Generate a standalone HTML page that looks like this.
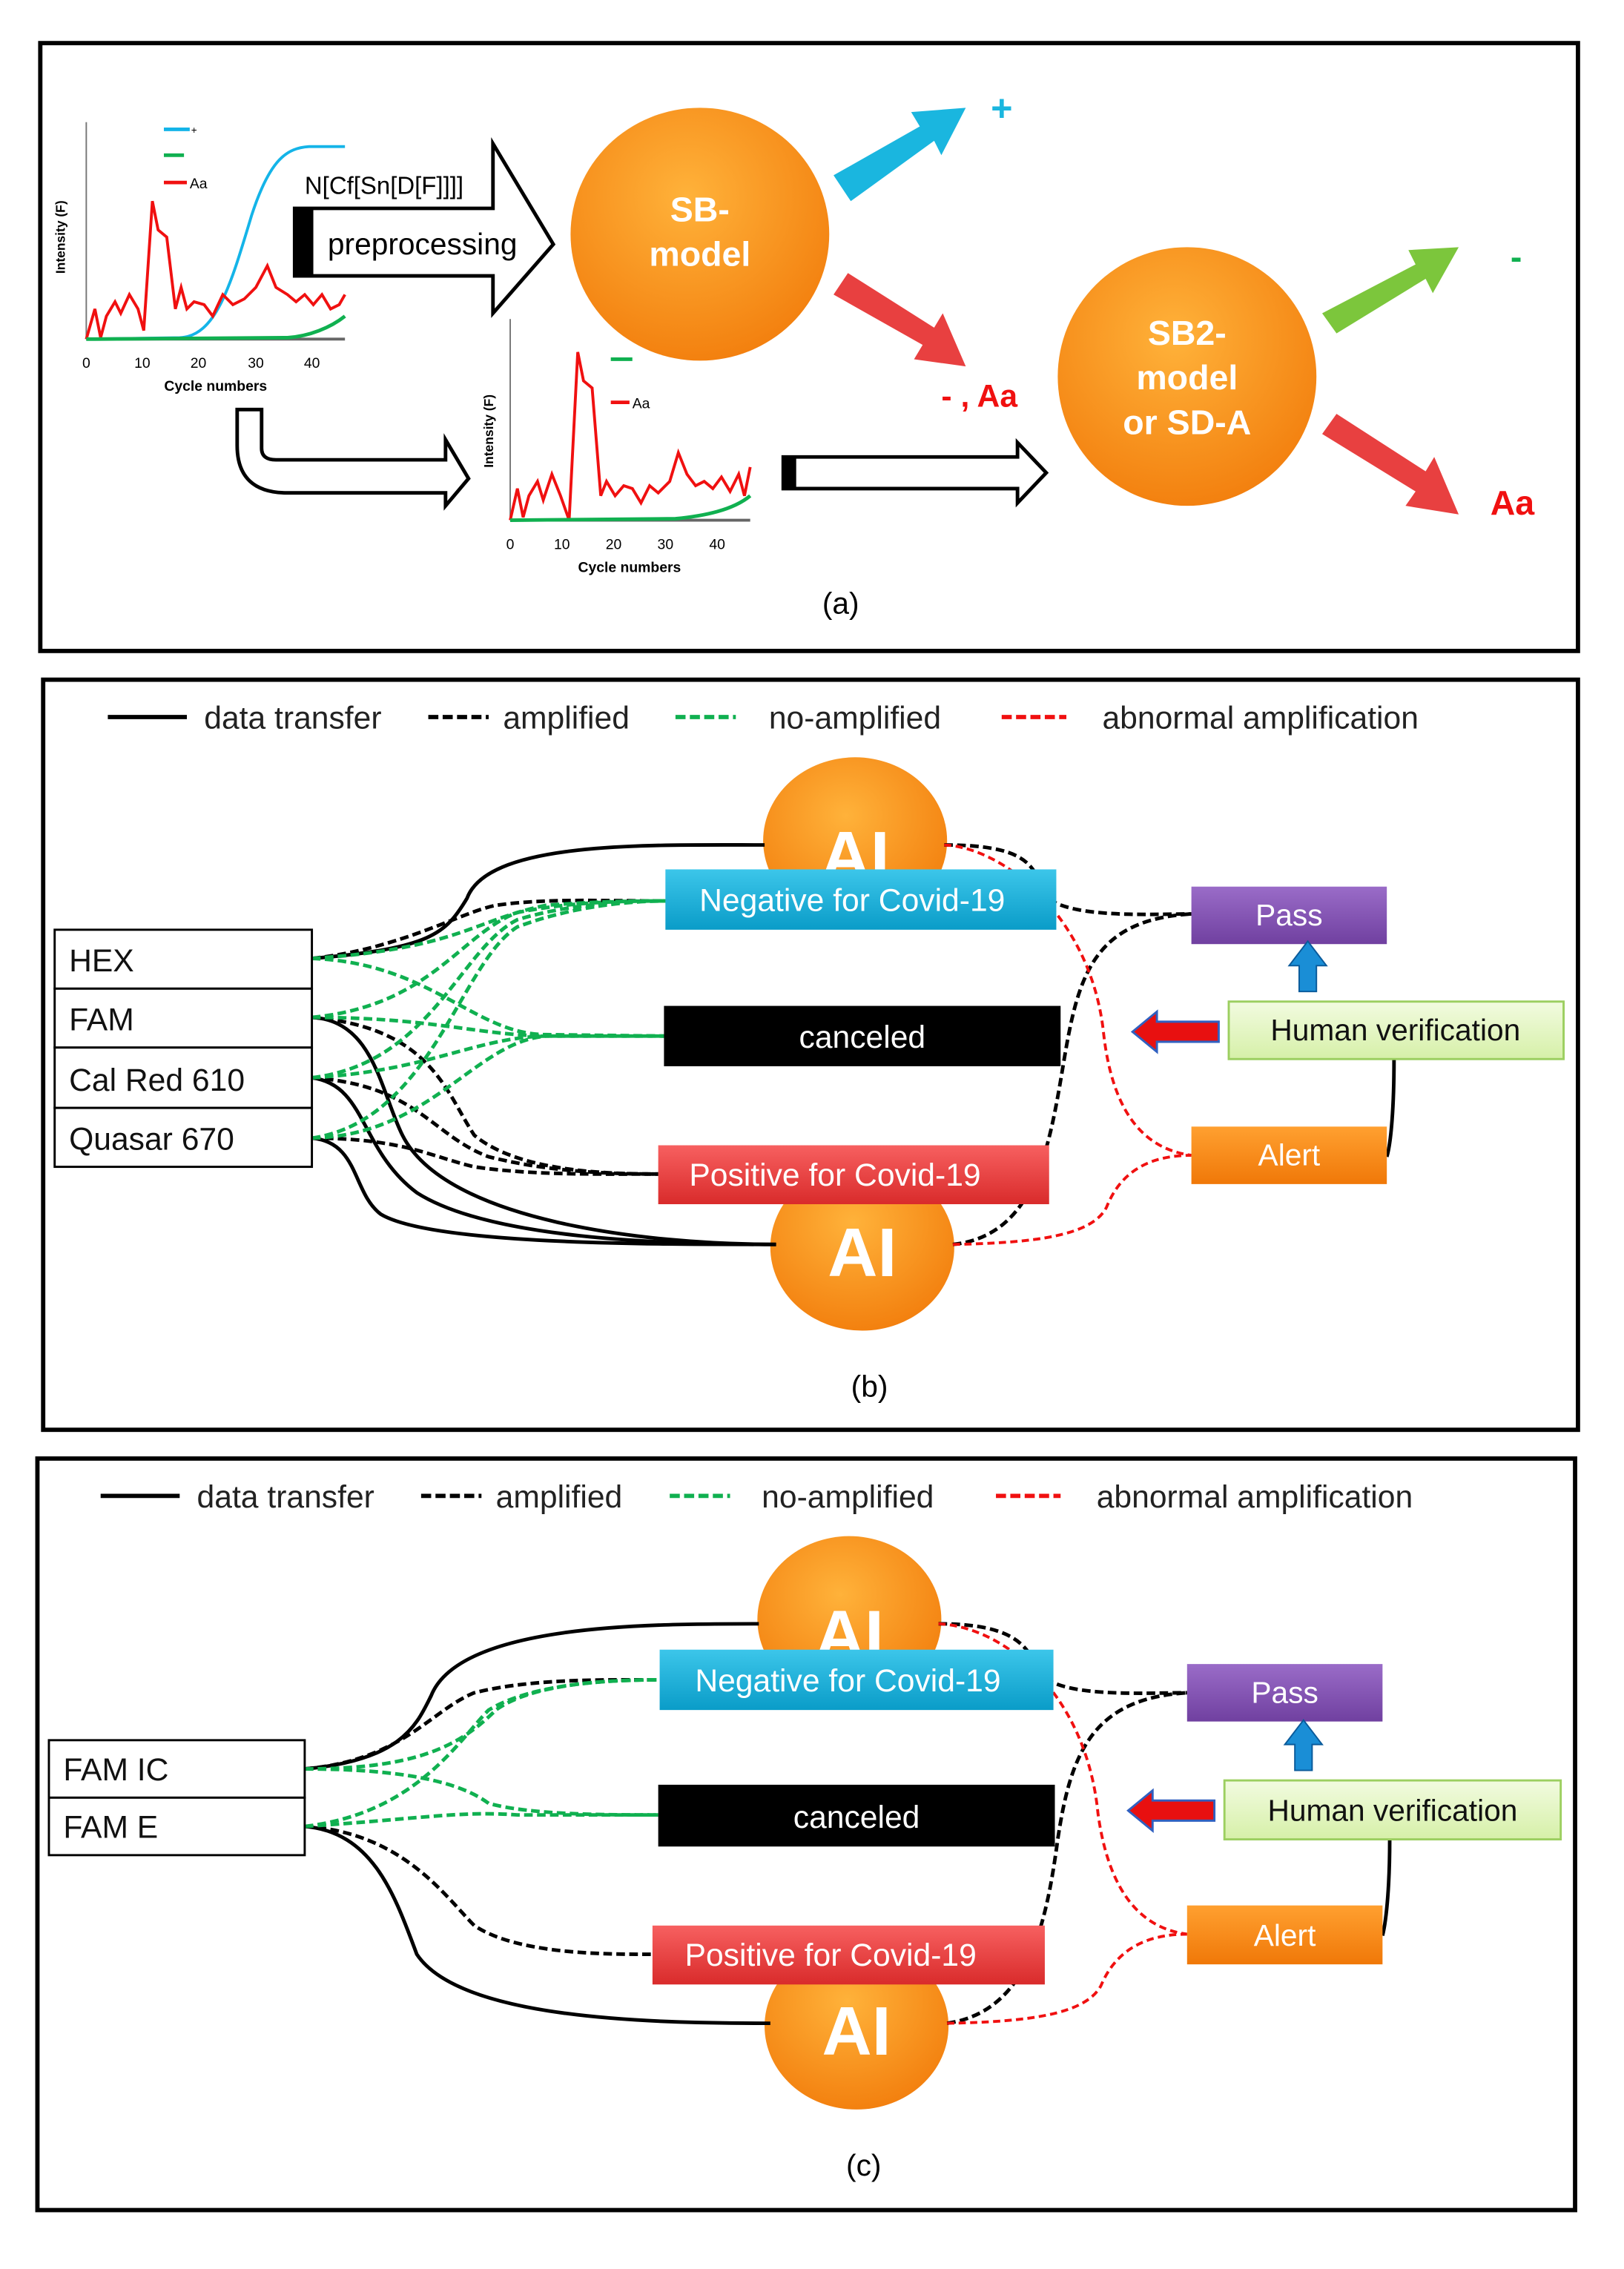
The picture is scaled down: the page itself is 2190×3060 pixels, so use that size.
<!DOCTYPE html>
<html><head><meta charset="utf-8"><style>html,body{margin:0;padding:0;background:#fff}svg{display:block}</style></head>
<body>
<svg xmlns="http://www.w3.org/2000/svg" width="2190" height="3060" viewBox="0 0 1130 1579" font-family="Liberation Sans, sans-serif">
<defs>
<radialGradient id="og" cx="0.45" cy="0.35" r="0.7"><stop offset="0" stop-color="#ffb23a"/><stop offset="1" stop-color="#f27d0c"/></radialGradient>
<linearGradient id="cy" x1="0" y1="0" x2="0" y2="1"><stop offset="0" stop-color="#3cc6ea"/><stop offset="1" stop-color="#0a9cc8"/></linearGradient>
<linearGradient id="rd" x1="0" y1="0" x2="0" y2="1"><stop offset="0" stop-color="#f76060"/><stop offset="1" stop-color="#d92b2b"/></linearGradient>
<linearGradient id="pu" x1="0" y1="0" x2="0" y2="1"><stop offset="0" stop-color="#9a6cc8"/><stop offset="1" stop-color="#7040a0"/></linearGradient>
<linearGradient id="or" x1="0" y1="0" x2="0" y2="1"><stop offset="0" stop-color="#ffa030"/><stop offset="1" stop-color="#f07808"/></linearGradient>
<linearGradient id="gr" x1="0" y1="0" x2="0" y2="1"><stop offset="0" stop-color="#f2fbe0"/><stop offset="1" stop-color="#d6f0a8"/></linearGradient>
</defs>
<rect width="1130" height="1579" fill="#fff"/>

<!-- PANEL A -->
<rect x="28" y="30" width="1070" height="423" fill="none" stroke="#000" stroke-width="3"/>
<!-- chart1 -->
<g>
<line x1="60" y1="85" x2="60" y2="236" stroke="#777" stroke-width="1"/>
<line x1="60" y1="236" x2="240" y2="236" stroke="#666" stroke-width="2"/>
<path d="M60,236 L125,235 C150,234 160,200 175,150 C188,110 200,103 215,102 L240,102" fill="none" stroke="#14b4e8" stroke-width="2"/>
<path d="M60,236 L66,215 L70,235 L74,220 L80,210 L84,218 L90,205 L96,215 L100,230 L106,140 L110,160 L116,165 L122,215 L126,200 L130,215 L135,210 L142,212 L148,220 L155,205 L162,212 L170,208 L178,200 L186,185 L192,200 L200,205 L206,210 L212,205 L218,212 L224,205 L230,215 L236,212 L240,205" fill="none" stroke="#f01010" stroke-width="2"/>
<path d="M60,236 L200,235 C215,234 230,228 240,220" fill="none" stroke="#10b050" stroke-width="2.5"/>
<line x1="114" y1="90" x2="132" y2="90" stroke="#14b4e8" stroke-width="2.5"/><text x="133" y="93" font-size="7">+</text>
<line x1="114" y1="108" x2="128" y2="108" stroke="#10b050" stroke-width="2.5"/>
<line x1="114" y1="127" x2="130" y2="127" stroke="#f01010" stroke-width="2.5"/><text x="132" y="131" font-size="10">Aa</text>
<g font-size="10" text-anchor="middle"><text x="60" y="256">0</text><text x="99" y="256">10</text><text x="138" y="256">20</text><text x="178" y="256">30</text><text x="217" y="256">40</text></g>
<text x="150" y="272" font-size="10" font-weight="bold" text-anchor="middle">Cycle numbers</text>
<text transform="translate(45,165) rotate(-90)" font-size="9" font-weight="bold" text-anchor="middle">Intensity (F)</text>
</g>
<!-- preprocessing arrow -->
<path d="M205,145 L343,145 L343,100 L385,170 L343,218 L343,192 L205,192 Z" fill="#fff" stroke="#000" stroke-width="2.5"/>
<rect x="205" y="145" width="13" height="47" fill="#000"/>
<text x="212" y="135" font-size="17">N[Cf[Sn[D[F]]]]</text>
<text x="228" y="177" font-size="21">preprocessing</text>
<!-- SB model -->
<ellipse cx="487" cy="163" rx="90" ry="88" fill="url(#og)"/>
<text x="487" y="154" font-size="24" font-weight="bold" fill="#fff" text-anchor="middle">SB-</text>
<text x="487" y="185" font-size="24" font-weight="bold" fill="#fff" text-anchor="middle">model</text>
<!-- arrows -->
<path d="M580,122 L640,88 L634,78 L672,75 L655,108 L650,98 L592,140 Z" fill="#1ab6df"/>
<path d="M580,205 L590,190 L650,228 L656,218 L672,255 L636,250 L642,240 Z" fill="#e84040"/>
<text x="697" y="84" font-size="26" font-weight="bold" fill="#1ab6df" text-anchor="middle">+</text>
<text x="655" y="283" font-size="22" font-weight="bold" fill="#f01010">- , Aa</text>
<ellipse cx="826" cy="262" rx="90" ry="90" fill="url(#og)"/>
<text x="826" y="240" font-size="24" font-weight="bold" fill="#fff" text-anchor="middle">SB2-</text>
<text x="826" y="271" font-size="24" font-weight="bold" fill="#fff" text-anchor="middle">model</text>
<text x="826" y="302" font-size="24" font-weight="bold" fill="#fff" text-anchor="middle">or SD-A</text>
<path d="M920,218 L985,184 L980,174 L1015,172 L997,204 L992,194 L930,232 Z" fill="#7cc63c"/>
<path d="M920,302 L930,288 L992,328 L998,318 L1015,358 L978,352 L985,342 Z" fill="#e84040"/>
<text x="1055" y="187" font-size="24" font-weight="bold" fill="#10b050" text-anchor="middle">-</text>
<text x="1037" y="358" font-size="24" font-weight="bold" fill="#f01010">Aa</text>
<!-- chart2 -->
<g>
<line x1="355" y1="222" x2="355" y2="362" stroke="#777"/>
<line x1="355" y1="362" x2="522" y2="362" stroke="#666" stroke-width="2"/>
<path d="M355,362 L360,340 L364,360 L368,345 L374,335 L378,348 L384,330 L390,345 L396,362 L402,245 L406,265 L412,270 L418,345 L422,335 L428,345 L434,338 L440,340 L446,350 L452,338 L458,343 L466,335 L472,315 L478,330 L484,338 L490,335 L496,340 L502,332 L508,342 L514,330 L518,345 L522,325" fill="none" stroke="#f01010" stroke-width="2"/>
<path d="M355,362 L470,361 C490,359 510,355 522,345" fill="none" stroke="#10b050" stroke-width="2.5"/>
<line x1="425" y1="250" x2="440" y2="250" stroke="#10b050" stroke-width="2.5"/>
<line x1="425" y1="280" x2="438" y2="280" stroke="#f01010" stroke-width="2.5"/><text x="440" y="284" font-size="10">Aa</text>
<g font-size="10" text-anchor="middle"><text x="355" y="382">0</text><text x="391" y="382">10</text><text x="427" y="382">20</text><text x="463" y="382">30</text><text x="499" y="382">40</text></g>
<text x="438" y="398" font-size="10" font-weight="bold" text-anchor="middle">Cycle numbers</text>
<text transform="translate(343,300) rotate(-90)" font-size="9" font-weight="bold" text-anchor="middle">Intensity (F)</text>
</g>
<!-- bent arrow -->
<path d="M165,285 L182,285 L182,312 Q182,320 192,320 L310,320 L310,306 L326,333 L310,352 L310,343 L200,343 Q165,343 165,310 Z" fill="#fff" stroke="#000" stroke-width="2.5"/>
<path d="M545,318 L708,318 L708,308 L728,329 L708,350 L708,340 L545,340 Z" fill="#fff" stroke="#000" stroke-width="2.5"/>
<rect x="545" y="318" width="9" height="22" fill="#000"/>
<text x="585" y="427" font-size="21" text-anchor="middle">(a)</text>

<!-- PANEL B -->
<rect x="30" y="473" width="1068" height="522" fill="none" stroke="#000" stroke-width="3"/>
<g font-size="22" fill="#222">
<line x1="75" y1="499" x2="130" y2="499" stroke="#000" stroke-width="3"/><text x="142" y="507">data transfer</text>
<line x1="298" y1="499" x2="340" y2="499" stroke="#000" stroke-width="3" stroke-dasharray="7,3"/><text x="350" y="507">amplified</text>
<line x1="470" y1="499" x2="512" y2="499" stroke="#10b050" stroke-width="3" stroke-dasharray="7,3"/><text x="535" y="507">no-amplified</text>
<line x1="697" y1="499" x2="742" y2="499" stroke="#f01010" stroke-width="3" stroke-dasharray="7,3"/><text x="767" y="507">abnormal amplification</text>
</g>
<ellipse cx="595" cy="585" rx="64" ry="58" fill="url(#og)"/>
<text x="595" y="612" font-size="48" font-weight="bold" fill="#fff" text-anchor="middle">AI</text>
<ellipse cx="600" cy="868" rx="64" ry="58" fill="url(#og)"/>
<!-- solid lines -->
<g fill="none" stroke="#000" stroke-width="2.5">
<path d="M217,667 C300,660 310,650 325,625 C340,585 450,588 532,588"/>
<path d="M217,708 C260,710 265,760 280,790 C310,850 450,866 540,866"/>
<path d="M217,750 C255,755 250,800 290,830 C340,862 460,866 540,866"/>
<path d="M217,792 C250,795 245,830 265,845 C300,866 450,866 540,866"/>
<path d="M970,737 C970,770 968,795 965,805"/>
</g>
<!-- black dashed -->
<g fill="none" stroke="#000" stroke-width="2.5" stroke-dasharray="6,3">
<path d="M217,667 C280,660 320,635 345,630 C380,625 420,627 463,627"/>
<path d="M217,708 C300,715 310,760 330,790 C360,815 420,817 458,817"/>
<path d="M217,750 C290,755 300,790 340,805 C380,815 420,817 458,817"/>
<path d="M217,792 C280,792 300,805 330,812 C370,818 420,817 458,817"/>
<path d="M657,588 C710,588 720,600 725,620 C735,640 800,636 829,636"/>
<path d="M663,866 C720,860 730,800 740,740 C750,680 760,640 829,636"/>
</g>
<g fill="none" stroke="#10b050" stroke-width="2.5" stroke-dasharray="6,3">
<path d="M217,667 C320,660 330,640 380,630 C420,627 440,627 463,627"/>
<path d="M217,708 C300,700 320,650 360,635 C400,627 440,627 463,627"/>
<path d="M217,750 C300,740 320,660 360,640 C400,628 440,627 463,627"/>
<path d="M217,792 C300,780 320,670 360,645 C400,630 440,627 463,627"/>
<path d="M217,667 C300,670 330,720 380,720 L462,721"/>
<path d="M217,708 C300,708 330,720 380,721 L462,721"/>
<path d="M217,750 C300,745 330,722 380,721 L462,721"/>
<path d="M217,792 C300,790 330,725 380,721 L462,721"/>
</g>
<g fill="none" stroke="#f01010" stroke-width="2" stroke-dasharray="5,3">
<path d="M657,588 C700,590 760,640 768,720 C775,780 800,800 829,804"/>
<path d="M663,866 C720,865 760,860 770,840 C780,815 800,804 829,804"/>
</g>
<!-- boxes -->
<rect x="463" y="605" width="272" height="42" fill="url(#cy)"/>
<text x="593" y="634" font-size="22" fill="#fff" text-anchor="middle">Negative for Covid-19</text>
<rect x="462" y="700" width="276" height="42" fill="#000"/>
<text x="600" y="729" font-size="22" fill="#fff" text-anchor="middle">canceled</text>
<rect x="458" y="797" width="272" height="41" fill="url(#rd)"/>
<text x="581" y="825" font-size="22" fill="#fff" text-anchor="middle">Positive for Covid-19</text>
<text x="600" y="888" font-size="48" font-weight="bold" fill="#fff" text-anchor="middle">AI</text>
<g fill="#fff" stroke="#000" stroke-width="1.5">
<rect x="38" y="647" width="179" height="41"/><rect x="38" y="688" width="179" height="41"/><rect x="38" y="729" width="179" height="42"/><rect x="38" y="771" width="179" height="41"/>
</g>
<g font-size="22" fill="#111"><text x="48" y="676">HEX</text><text x="48" y="717">FAM</text><text x="48" y="759">Cal Red 610</text><text x="48" y="800">Quasar 670</text></g>
<rect x="829" y="617" width="136" height="40" fill="url(#pu)"/>
<text x="897" y="644" font-size="21" fill="#fff" text-anchor="middle">Pass</text>
<rect x="855" y="697" width="233" height="40" fill="url(#gr)" stroke="#9ccf60" stroke-width="1.5"/>
<text x="971" y="724" font-size="21" fill="#111" text-anchor="middle">Human verification</text>
<rect x="829" y="784" width="136" height="40" fill="url(#or)"/>
<text x="897" y="811" font-size="21" fill="#fff" text-anchor="middle">Alert</text>
<path d="M904,690 L904,672 L897,672 L910,655 L923,672 L916,672 L916,690 Z" fill="#1a8ed6" stroke="#0a5a9a"/>
<path d="M848,711 L805,711 L805,704 L788,718 L805,732 L805,725 L848,725 Z" fill="#e81010" stroke="#3060c0" stroke-width="1.5"/>
<text x="605" y="972" font-size="21" text-anchor="middle">(b)</text>

<!-- PANEL C -->
<rect x="26" y="1015" width="1070" height="523" fill="none" stroke="#000" stroke-width="3"/>
<g font-size="22" fill="#222">
<line x1="70" y1="1041" x2="125" y2="1041" stroke="#000" stroke-width="3"/><text x="137" y="1049">data transfer</text>
<line x1="293" y1="1041" x2="335" y2="1041" stroke="#000" stroke-width="3" stroke-dasharray="7,3"/><text x="345" y="1049">amplified</text>
<line x1="466" y1="1041" x2="508" y2="1041" stroke="#10b050" stroke-width="3" stroke-dasharray="7,3"/><text x="530" y="1049">no-amplified</text>
<line x1="693" y1="1041" x2="738" y2="1041" stroke="#f01010" stroke-width="3" stroke-dasharray="7,3"/><text x="763" y="1049">abnormal amplification</text>
</g>
<ellipse cx="591" cy="1127" rx="64" ry="58" fill="url(#og)"/>
<text x="591" y="1154" font-size="48" font-weight="bold" fill="#fff" text-anchor="middle">AI</text>
<ellipse cx="596" cy="1410" rx="64" ry="58" fill="url(#og)"/>
<g fill="none" stroke="#000" stroke-width="2.5">
<path d="M212,1231 C280,1225 290,1200 300,1180 C320,1130 450,1130 528,1130"/>
<path d="M212,1271 C260,1275 275,1320 290,1360 C320,1405 450,1408 536,1408"/>
<path d="M967,1280 C967,1310 965,1335 962,1347"/>
</g>
<g fill="none" stroke="#000" stroke-width="2.5" stroke-dasharray="6,3">
<path d="M212,1231 C280,1225 300,1190 330,1178 C370,1168 420,1169 459,1169"/>
<path d="M212,1271 C280,1275 310,1320 330,1340 C360,1360 420,1360 454,1360"/>
<path d="M653,1130 C705,1130 715,1145 722,1162 C732,1182 795,1178 826,1178"/>
<path d="M659,1408 C715,1400 728,1340 736,1280 C745,1220 760,1182 826,1178"/>
</g>
<g fill="none" stroke="#10b050" stroke-width="2.5" stroke-dasharray="6,3">
<path d="M212,1231 C280,1231 320,1240 340,1255 C370,1263 420,1263 458,1263"/>
<path d="M212,1271 C290,1266 320,1260 360,1263 L458,1263"/>
<path d="M212,1271 C290,1262 320,1210 340,1190 C370,1172 420,1169 459,1169"/>
<path d="M212,1231 C290,1231 320,1215 345,1190 C370,1172 420,1169 459,1169"/>
</g>
<g fill="none" stroke="#f01010" stroke-width="2" stroke-dasharray="5,3">
<path d="M653,1130 C700,1132 756,1180 764,1262 C772,1320 796,1342 826,1346"/>
<path d="M659,1408 C715,1407 755,1402 766,1382 C776,1358 796,1346 826,1346"/>
</g>
<rect x="459" y="1148" width="274" height="42" fill="url(#cy)"/>
<text x="590" y="1177" font-size="22" fill="#fff" text-anchor="middle">Negative for Covid-19</text>
<rect x="458" y="1242" width="276" height="43" fill="#000"/>
<text x="596" y="1272" font-size="22" fill="#fff" text-anchor="middle">canceled</text>
<rect x="454" y="1340" width="273" height="41" fill="url(#rd)"/>
<text x="578" y="1368" font-size="22" fill="#fff" text-anchor="middle">Positive for Covid-19</text>
<text x="596" y="1430" font-size="48" font-weight="bold" fill="#fff" text-anchor="middle">AI</text>
<g fill="#fff" stroke="#000" stroke-width="1.5"><rect x="34" y="1211" width="178" height="40"/><rect x="34" y="1251" width="178" height="40"/></g>
<g font-size="22" fill="#111"><text x="44" y="1239">FAM IC</text><text x="44" y="1279">FAM E</text></g>
<rect x="826" y="1158" width="136" height="40" fill="url(#pu)"/>
<text x="894" y="1185" font-size="21" fill="#fff" text-anchor="middle">Pass</text>
<rect x="852" y="1239" width="234" height="41" fill="url(#gr)" stroke="#9ccf60" stroke-width="1.5"/>
<text x="969" y="1267" font-size="21" fill="#111" text-anchor="middle">Human verification</text>
<rect x="826" y="1326" width="136" height="41" fill="url(#or)"/>
<text x="894" y="1354" font-size="21" fill="#fff" text-anchor="middle">Alert</text>
<path d="M901,1232 L901,1214 L894,1214 L907,1197 L920,1214 L913,1214 L913,1232 Z" fill="#1a8ed6" stroke="#0a5a9a"/>
<path d="M845,1253 L802,1253 L802,1246 L785,1260 L802,1274 L802,1267 L845,1267 Z" fill="#e81010" stroke="#3060c0" stroke-width="1.5"/>
<text x="601" y="1514" font-size="21" text-anchor="middle">(c)</text>
</svg>
</body></html>
